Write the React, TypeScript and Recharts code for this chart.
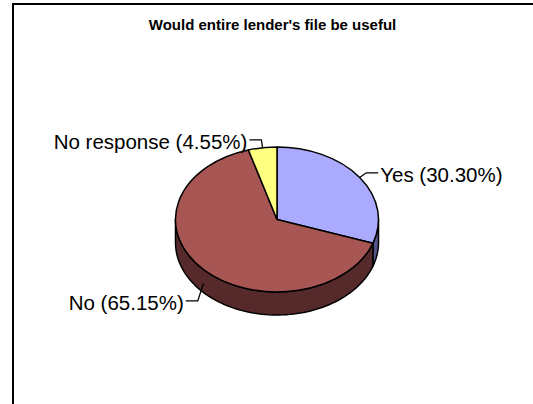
import React from 'react';
import { PieChart, Pie, Cell } from 'recharts';

const categories = ['Yes', 'No', 'No response'];
const counts = [20, 43, 3];
const topColors = ['#AAAAFF', '#A85654', '#FFFF80'];
const sideColors = ['#55558A', '#562A2A', '#808040'];

const data = categories.map((name, i) => ({ name, value: counts[i] }));

const TILT = 0.714; // vertical squash of the pie ellipse
const DEPTH = 23;
const RAD = Math.PI / 180;
const FONT = "'Liberation Sans', Arial, sans-serif";

function pt(cx: number, cy: number, r: number, deg: number) {
  return [cx + r * Math.cos(deg * RAD), cy - r * TILT * Math.sin(deg * RAD)];
}

// top face of a slice, drawn as an elliptical sector
function TopFace(props: any) {
  const { cx, cy, outerRadius: r, startAngle, endAngle, fill } = props;
  const hi = Math.max(startAngle, endAngle);
  const lo = Math.min(startAngle, endAngle);
  const [x1, y1] = pt(cx, cy, r, hi);
  const [x2, y2] = pt(cx, cy, r, lo);
  const large = hi - lo > 180 ? 1 : 0;
  const d = `M${cx},${cy} L${x1},${y1} A${r},${r * TILT} 0 ${large} 1 ${x2},${y2} Z`;
  return <path d={d} fill={fill} stroke="#000" strokeWidth={1.5} strokeLinejoin="round" />;
}

// front wall of a slice (only the part facing the viewer)
function SideWall(props: any) {
  const { cx, cy, outerRadius: r, startAngle, endAngle, fill } = props;
  const hi = Math.min(Math.max(startAngle, endAngle), 0);
  const lo = Math.max(Math.min(startAngle, endAngle), -180);
  if (hi <= lo) return null;
  const pts: number[][] = [];
  const steps = Math.max(2, Math.ceil((hi - lo) / 2));
  for (let i = 0; i <= steps; i++) pts.push(pt(cx, cy, r, lo + ((hi - lo) * i) / steps));
  const top = pts.map(([x, y]) => `${x},${y}`);
  const bottom = pts
    .slice()
    .reverse()
    .map(([x, y]) => `${x},${y + DEPTH}`);
  const d = `M${top.join(' L')} L${bottom.join(' L')} Z`;
  return <path d={d} fill={fill} stroke="#000" strokeWidth={1.5} strokeLinejoin="round" />;
}

function renderLabel(props: any) {
  const { cx, cy, outerRadius: r, midAngle, name, percent } = props;
  const c = Math.cos(midAngle * RAD);
  const s = Math.sin(midAngle * RAD);
  const [px, py] = pt(cx, cy, r, midAngle);
  const ay = py + (s < 0 ? DEPTH * 0.6 : 0);
  const ex = px + c * 8;
  const ey = ay - s * 8 + (s < 0 ? 12 : 0);
  const right = c >= 0;
  const hx = ex + (right ? 12 : -12);
  const tx = hx + (right ? 2 : -2);
  return (
    <g>
      <polyline points={`${px},${ay} ${ex},${ey} ${hx},${ey}`} fill="none" stroke="#000" strokeWidth={1.3} />
      <text
        x={tx}
        y={ey + 2}
        textAnchor={right ? 'start' : 'end'}
        dominantBaseline="central"
        fontSize={20.5}
        fontFamily={FONT}
        fill="#000"
      >
        {`${name} (${(percent * 100).toFixed(2)}%)`}
      </text>
    </g>
  );
}

export default function App() {
  return (
    <div style={{ position: 'absolute', left: 0, top: 0, width: 533, height: 404, background: '#fff', overflow: 'hidden' }}>
      <div
        style={{
          position: 'absolute',
          left: 12,
          top: 3,
          width: 519,
          height: 399,
          borderLeft: '2px solid #000',
          borderTop: '2px solid #000',
        }}
      />
      <div
        style={{
          position: 'absolute',
          left: 0,
          top: 17,
          width: 533,
          paddingLeft: 12,
          boxSizing: 'border-box',
          textAlign: 'center',
          fontFamily: FONT,
          fontWeight: 'bold',
          fontSize: 15,
          lineHeight: '16px',
        }}
      >
        Would entire lender's file be useful
      </div>
      <div style={{ position: 'absolute', left: 0, top: 0 }}>
        <PieChart
          width={533}
          height={404}
          margin={{ top: 0, right: 0, bottom: 0, left: 0 }}
          accessibilityLayer={false}
          style={{ outline: 'none' }}
        >
          <Pie
            data={data}
            dataKey="value"
            nameKey="name"
            cx={277}
            cy={219.5}
            outerRadius={101.5}
            startAngle={90}
            endAngle={-270}
            shape={SideWall}
            label={false}
            labelLine={false}
            isAnimationActive={false}
          >
            {data.map((d, i) => (
              <Cell key={d.name} fill={sideColors[i]} />
            ))}
          </Pie>
          <Pie
            data={data}
            dataKey="value"
            nameKey="name"
            cx={277}
            cy={219.5}
            outerRadius={101.5}
            startAngle={90}
            endAngle={-270}
            shape={TopFace}
            label={renderLabel}
            labelLine={false}
            isAnimationActive={false}
          >
            {data.map((d, i) => (
              <Cell key={d.name} fill={topColors[i]} />
            ))}
          </Pie>
        </PieChart>
      </div>
    </div>
  );
}
